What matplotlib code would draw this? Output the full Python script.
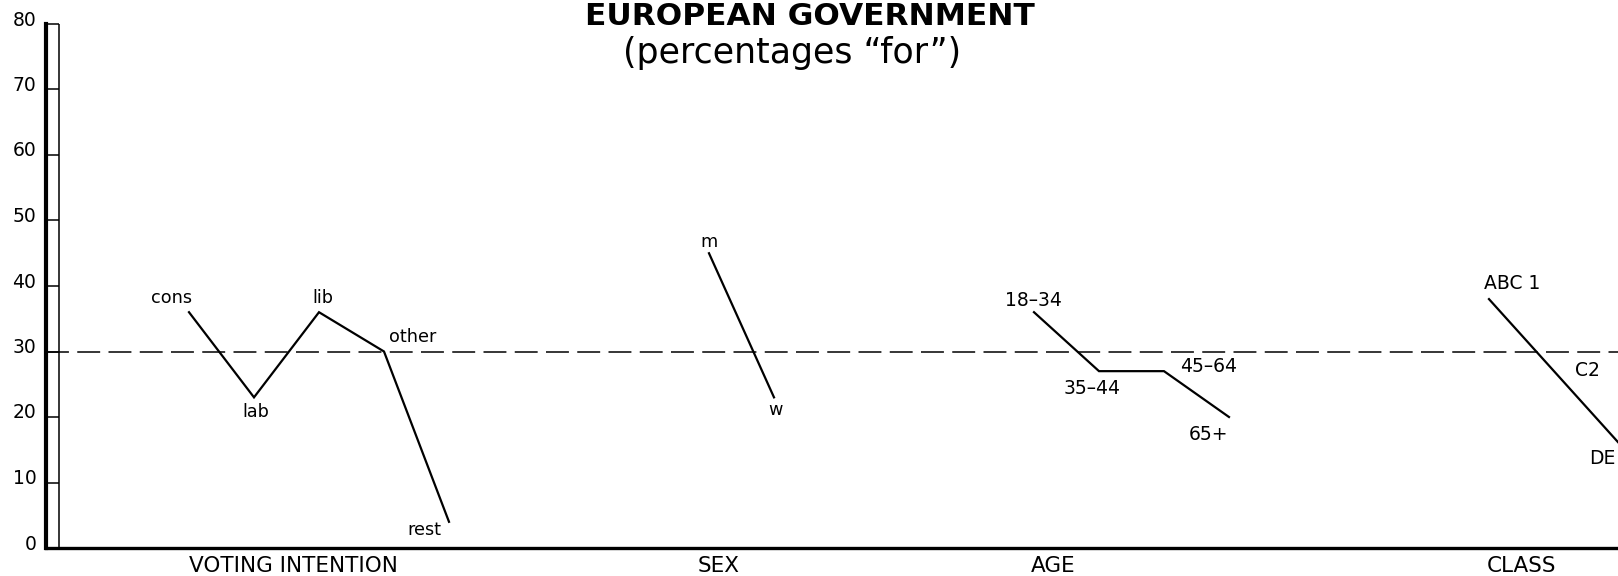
import numpy as np
import matplotlib.pyplot as plt
import matplotlib.transforms as mtransforms

# ================= DATA =================

voting_labels = ["cons", "lab", "lib", "other", "rest"]
voting_values = [36, 23, 36, 30, 4]

sex_labels = ["m", "w"]
sex_values = [45, 23]

age_labels = ["18\u201334", "35\u201344", "45\u201364", "65+"]
age_values = [36, 27, 27, 20]

class_labels = ["ABC 1", "C2", "DE"]
class_values = [38, 27, 16]

group_names = ["VOTING INTENTION", "SEX", "AGE", "CLASS"]
average_for = 30

y_ticks = list(range(0, 81, 10))

# ================= LAYOUT =================

# slot where each group starts, and where its name sits
group_starts = [0, 8, 13, 20]
group_name_x = [1.6, 8.15, 13.3, 20.5]
label_sizes = [12.7, 12.7, 13.5, 13.5]

# label offsets from the point, in pixels (dx, dy)
voting_offsets = [(-17, 14), (2, -15), (4, 14), (29, 15), (-25, -8)]
sex_offsets = [(0, 11), (1, -13)]
age_offsets = [(-1, 12), (-7, -17), (45, 5), (-20, -18)]
class_offsets = [(23, 16), (33, 1), (-17, -15)]

plt.rcParams["lines.scale_dashes"] = False

W, H = 1618, 576
fig = plt.figure(figsize=(W / 100, H / 100), dpi=100)
ax = fig.add_axes([46 / W, 28 / H, 1572 / W, 524 / H])

# ================= LINES =================

groups = [
    (voting_labels, voting_values, voting_offsets),
    (sex_labels, sex_values, sex_offsets),
    (age_labels, age_values, age_offsets),
    (class_labels, class_values, class_offsets),
]

for start, size, (labels, values, offsets) in zip(group_starts, label_sizes, groups):
    xs = start + np.arange(len(values))
    ax.plot(xs, values, color="black", lw=1.6, solid_joinstyle="miter")
    for x, v, lab, (dx, dy) in zip(xs, values, labels, offsets):
        ax.annotate(lab, (x, v), xytext=(dx, dy), textcoords="offset pixels",
                    ha="center", va="center", fontsize=size,
                    annotation_clip=False)

ax.axhline(average_for, color="black", lw=1.1, dashes=(16.5, 6))

# ================= AXES =================

ax.set_xlim(-2.2, 21.985)
ax.set_ylim(0, 80)

for side in ["top", "right"]:
    ax.spines[side].set_visible(False)
ax.spines["left"].set_linewidth(3)
ax.spines["bottom"].set_linewidth(2.4)

# the double bar of the y axis
ax.vlines(-2.0, 0, 80, color="black", lw=1.1, clip_on=False)
ax.hlines(y_ticks, -2.2, -2.0, color="black", lw=1.1, clip_on=False)

ax.set_yticks(y_ticks)
ax.tick_params(axis="y", length=0, pad=7, labelsize=13.5)
ax.set_xticks(group_name_x, group_names)
ax.tick_params(axis="x", length=0, pad=6, labelsize=15.5)

shift = mtransforms.ScaledTranslation(0, 6 / 100, fig.dpi_scale_trans)
for lbl in ax.get_yticklabels():
    lbl.set_transform(lbl.get_transform() + shift)

# ================= TITLE =================

fig.text(810 / W, 1 - 25 / H, "EUROPEAN GOVERNMENT", ha="center",
         va="baseline", fontsize=22.5, fontweight="bold")
fig.text(792 / W, 1 - 63 / H, "(percentages \u201cfor\u201d)", ha="center",
         va="baseline", fontsize=25)

fig.savefig("out.png", dpi=100)
